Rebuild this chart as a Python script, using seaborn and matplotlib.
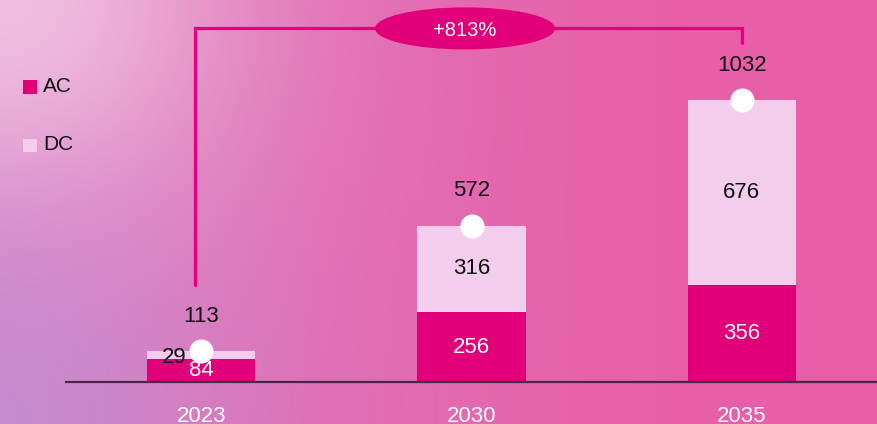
import numpy as np
import pandas as pd
import matplotlib
matplotlib.use("Agg")
import matplotlib.pyplot as plt
from matplotlib.patches import Ellipse, Rectangle
import seaborn as sns

# ---- data -------------------------------------------------------------
years = ["2023", "2030", "2035"]
ac_values = [84, 256, 356]
dc_values = [29, 316, 676]
totals = [113, 572, 1032]
growth_label = "+813%"
series_names = ["AC", "DC"]

# ---- style ------------------------------------------------------------
AC_COLOR = "#e2007a"
DC_COLOR = "#f2cdec"
LINE_COLOR = "#e4007c"
AXIS_COLOR = "#4a2645"
TEXT_DARK = "#111111"

sns.set_theme(style="white")
plt.rcParams["font.family"] = ["Liberation Sans", "DejaVu Sans"]

W, H, DPI = 877, 424, 100
fig = plt.figure(figsize=(W / DPI, H / DPI), dpi=DPI)

# ---- gradient backdrop ------------------------------------------------
bg = fig.add_axes([0, 0, 1, 1], zorder=0)
bg.set_axis_off()
xx, yy = np.meshgrid(np.linspace(0, 1, W), np.linspace(0, 1, H))  # yy: 0 top, 1 bottom
left_base = np.array([218, 124, 190]) / 255
right_base = np.array([233, 94, 168]) / 255
t = np.clip(xx * 1.25, 0, 1)[..., None]
img = left_base[None, None, :] * (1 - t) + right_base[None, None, :] * t
# soft light from the top-left corner
d1 = np.sqrt((xx * 877 / 424) ** 2 + yy ** 2)
w1 = np.clip(np.exp(-(d1 / 0.55) ** 2), 0, 1)[..., None]
light = np.array([242, 190, 226]) / 255
img = img * (1 - w1) + light * w1
# lavender tint at the bottom-left
d2 = np.sqrt((xx * 877 / 424) ** 2 + (1 - yy) ** 2)
w2 = np.clip(0.85 * np.exp(-(d2 / 0.5) ** 2), 0, 1)[..., None]
lav = np.array([196, 140, 210]) / 255
img = img * (1 - w2) + lav * w2
bg.imshow(np.clip(img, 0, 1), aspect="auto", extent=[0, 1, 0, 1])

# ---- main axes --------------------------------------------------------
ax = fig.add_axes([66 / W, 42 / H, 811 / W, 382 / H], zorder=1)
ax.patch.set_alpha(0)

df = pd.DataFrame({"year": years, "AC": ac_values, "DC": dc_values, "total": totals})

# stacked bars: full total in DC colour, AC drawn over the lower part
sns.barplot(data=df, x="year", y="total", color=DC_COLOR, saturation=1,
            width=0.4, ax=ax, zorder=2, linewidth=0, edgecolor="none")
sns.barplot(data=df, x="year", y="AC", color=AC_COLOR, saturation=1,
            width=0.4, ax=ax, zorder=3, linewidth=0, edgecolor="none")

ax.set_xlim(-0.5, 2.5)
ax.set_ylim(0, 1398)
ax.set_xlabel("")
ax.set_ylabel("")
ax.set_yticks([])
for side in ["top", "right", "left"]:
    ax.spines[side].set_visible(False)
ax.spines["bottom"].set_color(AXIS_COLOR)
ax.spines["bottom"].set_linewidth(1.6)
ax.spines["bottom"].set_zorder(6)
ax.tick_params(axis="x", length=0, pad=17.5, labelsize=16, labelcolor="white")

pos = np.arange(len(years))

# white markers on bar tops
ax.scatter(pos, df["total"], s=300, color="white", zorder=7, clip_on=False,
           linewidths=0)

# value labels
for i, (a, d, t) in enumerate(zip(ac_values, dc_values, totals)):
    ax.annotate(str(t), (i, t), xytext=(0, 25), textcoords="offset points",
                ha="center", va="center", fontsize=16, color=TEXT_DARK, zorder=8)
    ax.annotate(str(a), (i, a / 2), xytext=(0, 0), textcoords="offset points",
                ha="center", va="center", fontsize=16, color="white", zorder=8)
    if d < 60:
        # thin segment: label sits to the left of the marker
        ax.annotate(str(d), (i, a + d / 2), xytext=(-19.5, -1.5),
                    textcoords="offset points", ha="center", va="center",
                    fontsize=16, color=TEXT_DARK, zorder=8)
    else:
        ax.annotate(str(d), (i, a + d / 2), xytext=(0, 0), textcoords="offset points",
                    ha="center", va="center", fontsize=16, color=TEXT_DARK, zorder=8)

# growth bracket from first to last bar
top_y = 1294
ax.plot([-0.021, -0.021, 2.0, 2.0], [355, top_y, top_y, 1240],
        color=LINE_COLOR, lw=2.3, solid_joinstyle="miter", zorder=4, clip_on=False)
ax.add_patch(Ellipse((0.976, top_y), 0.666, 154, facecolor=AC_COLOR,
                     edgecolor="none", zorder=5))
ax.text(0.976, top_y - 8, growth_label, ha="center", va="center", fontsize=14.5,
        color="white", zorder=6)

# legend
for name, color, cy in zip(series_names, [AC_COLOR, DC_COLOR], [86.5, 144.5]):
    fig.patches.append(Rectangle((23 / W, (H - cy - 7) / H), 14 / W, 13 / H,
                                 transform=fig.transFigure, facecolor=color,
                                 edgecolor="none", zorder=3))
    fig.text(43 / W, (H - cy) / H, name, ha="left", va="center", fontsize=15,
             color=TEXT_DARK, zorder=3)

fig.savefig("out.png", dpi=DPI)
